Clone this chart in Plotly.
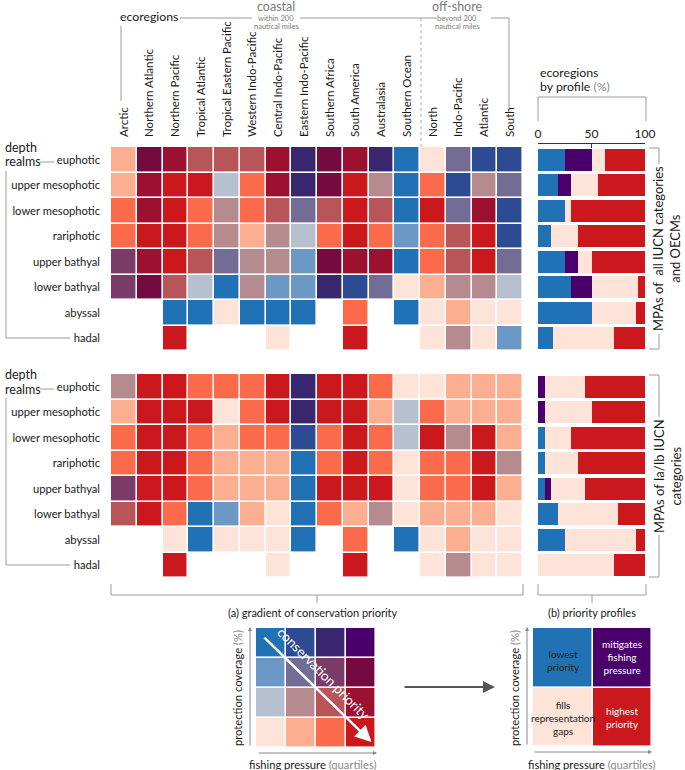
import plotly.graph_objects as go

W, H = 685, 770
FONT = "Lato"

ecoregions = ["Arctic", "Northern Atlantic", "Northern Pacific", "Tropical Atlantic",
              "Tropical Eastern Pacific", "Western Indo-Pacific", "Central Indo-Pacific",
              "Eastern Indo-Pacific", "Southern Africa", "South America", "Australasia",
              "Southern Ocean", "North", "Indo-Pacific", "Atlantic", "South"]
depth_realms = ["euphotic", "upper mesophotic", "lower mesophotic", "rariphotic",
                "upper bathyal", "lower bathyal", "abyssal", "hadal"]

# bivariate class "cf": c = protection coverage quartile (1 low .. 4 high),
#                       f = fishing pressure quartile (1 low .. 4 high)
class_order = ["11", "12", "13", "14", "21", "22", "23", "24",
               "31", "32", "33", "34", "41", "42", "43", "44"]
class_colors = ["#fee4d8", "#fcae91", "#fb6a4a", "#cb181d",
                "#b6c0cf", "#b68b90", "#b85558", "#9c1030",
                "#6b98c4", "#736c94", "#7b3b68", "#740a40",
                "#2171b5", "#2c4b93", "#38266f", "#49006a"]

# MPAs of all IUCN categories and OECMs ("" = no data)
classes_all = [
    ["12", "34", "24", "23", "23", "23", "24", "43", "34", "24", "43", "41", "11", "32", "42", "42"],
    ["12", "24", "14", "14", "21", "13", "24", "43", "34", "14", "22", "41", "13", "42", "22", "32"],
    ["13", "24", "14", "13", "22", "13", "23", "32", "23", "14", "23", "41", "14", "32", "24", "42"],
    ["13", "14", "14", "13", "22", "12", "22", "21", "13", "14", "13", "31", "13", "23", "14", "42"],
    ["33", "24", "14", "23", "32", "22", "22", "31", "34", "24", "24", "41", "13", "23", "14", "32"],
    ["33", "34", "23", "21", "41", "22", "31", "31", "43", "42", "32", "11", "12", "22", "22", "21"],
    ["",   "",   "41", "41", "11", "41", "41", "41", "",   "13", "",   "41", "11", "12", "11", "11"],
    ["",   "",   "14", "",   "",   "",   "11", "",   "",   "14", "",   "",   "11", "22", "11", "31"],
]
# MPAs of Ia/Ib IUCN categories
classes_strict = [
    ["22", "14", "14", "13", "13", "13", "14", "43", "14", "14", "13", "11", "11", "12", "12", "12"],
    ["12", "14", "14", "14", "11", "13", "14", "43", "14", "14", "12", "21", "13", "12", "12", "12"],
    ["13", "14", "14", "13", "12", "13", "13", "42", "13", "14", "13", "21", "14", "22", "14", "12"],
    ["13", "14", "14", "13", "12", "12", "12", "41", "13", "14", "13", "11", "13", "13", "14", "22"],
    ["33", "14", "14", "13", "12", "12", "12", "41", "14", "14", "14", "11", "13", "13", "14", "12"],
    ["23", "14", "13", "41", "31", "12", "11", "41", "13", "12", "22", "11", "12", "12", "12", "11"],
    ["",   "",   "11", "41", "11", "11", "11", "41", "",   "13", "",   "41", "11", "12", "11", "11"],
    ["",   "",   "14", "",   "",   "",   "11", "",   "",   "14", "",   "",   "11", "22", "11", "11"],
]

profiles = ["lowest priority", "mitigates fishing pressure", "fills representation gaps", "highest priority"]
profile_colors = ["#2171b5", "#49006a", "#fee4d8", "#cb181d"]

# ecoregions by profile (%) per depth realm
all_lowest = [25, 18.75, 25, 12.5, 25, 31.25, 50, 14.3]
all_mitig = [25, 12.5, 0, 0, 12.5, 18.75, 0, 0]
all_fills = [12.5, 25, 6.25, 25, 12.5, 43.75, 41.7, 57.1]
all_highest = [37.5, 43.75, 68.75, 62.5, 50, 6.25, 8.3, 28.6]

strict_lowest = [0, 0, 6.25, 6.25, 6.25, 18.75, 25, 0]
strict_mitig = [6.25, 6.25, 0, 0, 6.25, 0, 0, 0]
strict_fills = [37.5, 43.75, 25, 31.25, 31.25, 56.25, 66.7, 71.4]
strict_highest = [56.25, 50, 68.75, 62.5, 56.25, 25, 8.3, 28.6]

bar_ticks = [0, 50, 100]

# ---------------------------------------------------------------- helpers
def X(p):
    return p / W

def Y(p):
    return 1 - p / H

def xd(a, b):
    return [X(a), X(b)]

def yd(top, bottom):
    return [Y(bottom), Y(top)]

def disc_scale(colors):
    n = len(colors)
    cs = []
    for i, c in enumerate(colors):
        cs.append([i / n, c])
        cs.append([(i + 1) / n, c])
    return cs

def to_index(grid):
    return [[class_order.index(v) if v else None for v in row] for row in grid]

GRAY = "#9a9a9a"
TXT = "#1a1a1a"

fig = go.Figure()

# ---------------------------------------------------------------- heatmaps
for grid, xa, ya in [(classes_all, "x", "y"), (classes_strict, "x2", "y2")]:
    fig.add_trace(go.Heatmap(
        z=to_index(grid), x=list(range(len(ecoregions))), y=list(range(len(depth_realms))),
        colorscale=disc_scale(class_colors), zmin=-0.5, zmax=len(class_colors) - 0.5,
        showscale=False, xgap=1.6, ygap=1.6, xaxis=xa, yaxis=ya, hoverongaps=False))

# ---------------------------------------------------------------- profile bars
panels = [((all_lowest, all_mitig, all_fills, all_highest), "x3", "y3"),
          ((strict_lowest, strict_mitig, strict_fills, strict_highest), "x4", "y4")]
for vals, xa, ya in panels:
    for name, col, v in zip(profiles, profile_colors, vals):
        fig.add_trace(go.Bar(
            x=v, y=list(range(len(depth_realms))), orientation="h", name=name,
            marker=dict(color=col, line=dict(width=0)), width=0.86,
            xaxis=xa, yaxis=ya, showlegend=False))

# ---------------------------------------------------------------- legend (a)
leg_a = [[r * 4 + c for c in range(4)] for r in range(4)]
fig.add_trace(go.Heatmap(
    z=leg_a, x=list(range(4)), y=list(range(4)),
    colorscale=disc_scale(class_colors), zmin=-0.5, zmax=15.5, showscale=False,
    xgap=1.6, ygap=1.6, xaxis="x5", yaxis="y5", hoverinfo="skip"))

# ---------------------------------------------------------------- legend (b)
leg_b = [[2, 3], [0, 1]]
fig.add_trace(go.Heatmap(
    z=leg_b, x=[0, 1], y=[0, 1],
    colorscale=disc_scale(profile_colors), zmin=-0.5, zmax=3.5, showscale=False,
    xgap=1.6, ygap=1.6, xaxis="x6", yaxis="y6", hoverinfo="skip"))

# ---------------------------------------------------------------- axes
hidden = dict(visible=False, showgrid=False, zeroline=False)
fig.update_layout(
    xaxis=dict(domain=xd(111, 523), range=[-0.5, 15.5], side="top", tickangle=-90,
               tickvals=list(range(16)), ticktext=ecoregions, ticks="", showgrid=False,
               zeroline=False, tickfont=dict(size=11.5, color=TXT), ticklabelstandoff=9,
               anchor="y"),
    yaxis=dict(domain=yd(147, 351), range=[7.5, -0.5], tickvals=list(range(8)),
               ticktext=depth_realms, ticks="", showgrid=False, zeroline=False,
               tickfont=dict(size=11.2, color=TXT), ticklabelstandoff=10, anchor="x"),
    xaxis2=dict(domain=xd(111, 523), range=[-0.5, 15.5], showticklabels=False, ticks="",
                showgrid=False, zeroline=False, anchor="y2"),
    yaxis2=dict(domain=yd(374, 578), range=[7.5, -0.5], tickvals=list(range(8)),
                ticktext=depth_realms, ticks="", showgrid=False, zeroline=False,
                tickfont=dict(size=11.2, color=TXT), ticklabelstandoff=10, anchor="x2"),
    xaxis3=dict(domain=xd(538, 645), range=[0, 100], side="top", tickvals=bar_ticks,
                ticks="inside", ticklen=4, tickcolor="#333", showline=True, linecolor="#333",
                linewidth=1, showgrid=False, zeroline=False,
                tickfont=dict(size=12, color=TXT), anchor="free", position=Y(143)),
    yaxis3=dict(domain=yd(147, 351), range=[7.5, -0.5], anchor="x3", **hidden),
    xaxis4=dict(domain=xd(538, 645), range=[0, 100], anchor="y4", **hidden),
    yaxis4=dict(domain=yd(374, 578), range=[7.5, -0.5], anchor="x4", **hidden),
    xaxis5=dict(domain=xd(256, 376), range=[-0.5, 3.5], anchor="y5", **hidden),
    yaxis5=dict(domain=yd(628, 748), range=[-0.5, 3.5], anchor="x5", **hidden),
    xaxis6=dict(domain=xd(533, 652), range=[-0.5, 1.5], anchor="y6", **hidden),
    yaxis6=dict(domain=yd(628, 747), range=[-0.5, 1.5], anchor="x6", **hidden),
    barmode="stack", bargap=0,
    width=W, height=H, margin=dict(l=0, r=0, t=0, b=0, autoexpand=False),
    paper_bgcolor="white", plot_bgcolor="white",
    font=dict(family=FONT, color=TXT, size=12),
    showlegend=False,
)

# ---------------------------------------------------------------- decorations
shapes = []
def line(x0, y0, x1, y1, color=GRAY, width=1, dash=None):
    d = dict(type="line", xref="paper", yref="paper", x0=X(x0), y0=Y(y0), x1=X(x1), y1=Y(y1),
             line=dict(color=color, width=width))
    if dash:
        d["line"]["dash"] = dash
    shapes.append(d)

# header lines
line(121, 26, 121, 101)
line(180, 18, 252, 18)
line(300, 18, 437, 18)
line(421, 18, 421, 147, color="#aaaaaa", dash="dot")
line(491, 18, 509, 18)
line(509, 18, 509, 108)
# left depth realm brackets
for top in (147, 374):
    line(40, top + 15, 54, top + 15)
    line(6, top + 24, 6, top + 191)
    line(6, top + 191, 70, top + 191)
# right brackets
line(649, 148, 659, 148); line(659, 148, 659, 164)
line(659, 334, 659, 349); line(649, 349, 659, 349)
line(649, 375, 659, 375); line(659, 375, 659, 417)
line(659, 535, 659, 577); line(649, 577, 659, 577)
# bar header bracket
line(538, 97, 538, 121); line(538, 97, 646, 97); line(646, 97, 646, 121)
# bottom brackets
line(111, 584, 111, 595); line(111, 595, 523, 595); line(523, 584, 523, 595)
line(317, 595, 317, 603)
line(538, 584, 538, 595); line(538, 595, 646, 595); line(646, 584, 646, 595)
line(592, 595, 592, 603)
fig.update_layout(shapes=shapes)

ann = []
def text(x, y, s, size=12, color=TXT, xanchor="center", angle=0, yanchor="middle"):
    ann.append(dict(x=X(x), y=Y(y), xref="paper", yref="paper", text=s, showarrow=False,
                    font=dict(size=size, color=color, family=FONT), xanchor=xanchor,
                    yanchor=yanchor, textangle=angle))

def arrow(x0, y0, x1, y1, color="#888", width=1, head=2, size=1.0):
    ann.append(dict(x=X(x1), y=Y(y1), ax=x0 - x1, ay=y0 - y1, xref="paper", yref="paper",
                    axref="pixel", ayref="pixel", text="", showarrow=True, arrowhead=head,
                    arrowsize=size, arrowwidth=width, arrowcolor=color))

gspan = "<span style='color:#8a8a8a'>%s</span>"
text(118, 17, "ecoregions", size=12.3, xanchor="left")
text(276, 7, "coastal", size=12.5, color="#7a7a7a")
text(276, 18, "within 200", size=7.5, color="#7a7a7a")
text(276, 27, "nautical miles", size=7.5, color="#7a7a7a")
text(457, 7, "off-shore", size=12.5, color="#7a7a7a")
text(457, 18, "beyond 200", size=7.5, color="#7a7a7a")
text(457, 27, "nautical miles", size=7.5, color="#7a7a7a")
for top in (147, 374):
    text(3, top, "depth", size=12.5, xanchor="left")
    text(3, top + 15, "realms", size=12.5, xanchor="left")
text(538, 72, "ecoregions", size=12.3, xanchor="left")
text(538, 87, "by profile " + gspan % "(%)", size=12.3, xanchor="left")
text(667, 249, "MPAs of  all IUCN categories<br>and OECMs", size=13, angle=-90)
text(667, 476, "MPAs of Ia/Ib IUCN<br>categories", size=13, angle=-90)
text(313, 612, "(a) gradient of conservation priority", size=11)
text(592, 612, "(b) priority profiles", size=11)

# legend (a)
arrow(250, 747, 250, 627, color="#888", width=1, head=2, size=0.8)
arrow(257, 753, 377, 753, color="#888", width=1, head=2, size=0.8)
text(237, 688, "protection coverage " + gspan % "(%)", size=11.2, angle=-90)
text(313, 764, "fishing pressure " + gspan % "(quartiles)", size=11.2)
ann.append(dict(x=3.35, y=-0.3, ax=-0.27, ay=3.23, xref="x5", yref="y5", axref="x5",
                ayref="y5", text="", showarrow=True, arrowhead=2, arrowsize=1.3,
                arrowwidth=2.5, arrowcolor="white"))
text(323, 673, "conservation priority", size=13.5, color="white", angle=45)

# middle arrow
arrow(403, 687, 495, 687, color="#555", width=2, head=2, size=1.2)

# legend (b)
arrow(527, 746, 527, 627, color="#888", width=1, head=2, size=0.8)
arrow(533, 752, 652, 752, color="#888", width=1, head=2, size=0.8)
text(514, 688, "protection coverage " + gspan % "(%)", size=11.2, angle=-90)
text(592, 764, "fishing pressure " + gspan % "(quartiles)", size=11.2)
text(563, 660, "lowest<br>priority", size=10, color="#222")
text(622, 657, "mitigates<br>fishing<br>pressure", size=10, color="white")
text(563, 718, "fills<br>representation<br>gaps", size=10, color="#222")
text(622, 717, "highest<br>priority", size=10, color="white")

fig.update_layout(annotations=ann)
fig.write_html("out.html", config={"staticPlot": True, "displayModeBar": False},
               post_script="document.body.style.margin='0';document.body.style.overflow='hidden';")
